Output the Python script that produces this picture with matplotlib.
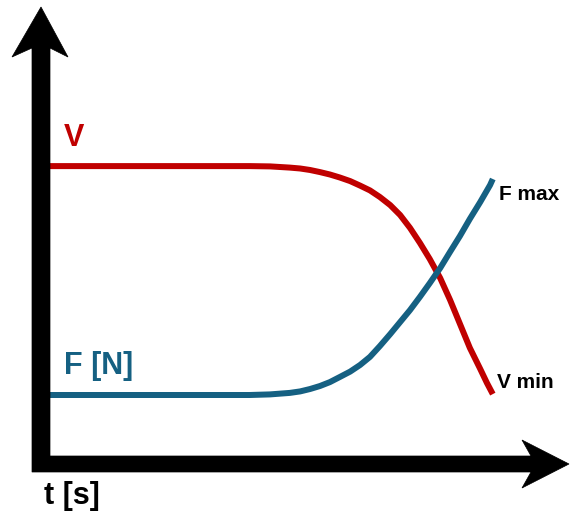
import matplotlib
matplotlib.use("Agg")
import matplotlib.pyplot as plt
from matplotlib.patches import Polygon

W, H, DPI = 570, 514, 100

# curves: time (s) and value (arbitrary units)
v_time = [0, 4.64, 5.09, 5.53, 5.76, 5.98, 6.20, 6.42, 6.64, 6.87, 7.09, 7.31,
          7.53, 7.76, 7.98, 8.20, 8.42, 8.64, 8.87, 9.09, 9.31, 9.53, 9.76, 9.91, 10.04]
v_value = [9.93, 9.93, 9.92, 9.88, 9.85, 9.80, 9.73, 9.65, 9.55, 9.43, 9.28, 9.12,
           8.90, 8.63, 8.30, 7.87, 7.37, 6.83, 6.20, 5.47, 4.67, 3.87, 3.17, 2.70, 2.33]

f_time = [0, 4.64, 5.09, 5.53, 5.76, 5.98, 6.20, 6.42, 6.64, 6.87, 7.09, 7.31,
          7.53, 7.76, 7.98, 8.20, 8.42, 8.64, 8.87, 9.09, 9.31, 9.53, 9.76, 9.98, 10.04]
f_value = [2.30, 2.30, 2.32, 2.37, 2.42, 2.50, 2.60, 2.73, 2.90, 3.08, 3.30, 3.57,
           3.93, 4.33, 4.73, 5.13, 5.57, 6.03, 6.53, 7.07, 7.60, 8.17, 8.73, 9.30, 9.50]

RED = "#C00000"
BLUE = "#156082"
FONT = "Liberation Sans"


def px(x, y):
    """pixel position (from top-left) -> figure fraction"""
    return x / W, 1 - y / H


fig = plt.figure(figsize=(W / DPI, H / DPI), dpi=DPI)
ax = fig.add_axes([0, 0, 1, 1])
# origin of the drawn axes sits at pixel (41, 464); 45 px per second, 30 px per unit
ax.set_xlim(-41 / 45, (W - 41) / 45)
ax.set_ylim((464 - H) / 30, 464 / 30)
ax.axis("off")

lw = 6 * 72 / DPI
ax.plot(v_time, v_value, color=RED, lw=lw, solid_capstyle="butt", solid_joinstyle="round")
ax.plot(f_time, f_value, color=BLUE, lw=lw, solid_capstyle="butt", solid_joinstyle="round")

# both axis arrows as one L shaped outline
outline = [(41, 7), (68, 57), (50, 48), (50, 456), (531, 456), (522, 440), (569, 464),
           (522, 488), (531, 472), (32, 472), (32, 48), (12, 57)]
fig.patches.append(Polygon([px(x, y) for x, y in outline], closed=True,
                           transform=fig.transFigure, facecolor="black",
                           edgecolor="black", lw=0.5, joinstyle="miter"))

big = dict(fontsize=22, fontweight="bold", family=FONT, va="center", ha="left")
small = dict(fontsize=15, fontweight="bold", family=FONT, va="center", ha="left")
fig.text(*px(64, 138), "V", color=RED, **big)
fig.text(*px(64, 366), "F [N]", color=BLUE, **big)
fig.text(*px(44, 496), "t [s]", color="black", **big)
fig.text(*px(499, 194), "F max", color="black", **small)
fig.text(*px(497, 383), "V min", color="black", **small)

fig.savefig("out.png", dpi=DPI)
